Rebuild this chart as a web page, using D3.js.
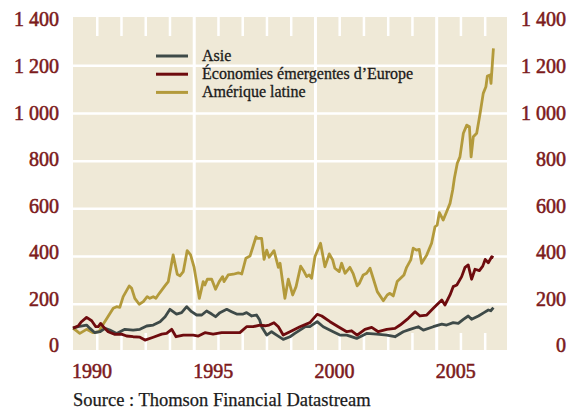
<!DOCTYPE html>
<html>
<head>
<meta charset="utf-8">
<script src="https://cdn.jsdelivr.net/npm/d3@7/dist/d3.min.js"></script>
<style>
  html, body { margin: 0; padding: 0; background: #ffffff; }
  svg { display: block; }
</style>
</head>
<body>
<svg id="chart" width="568" height="409"></svg>
<script>
// ---------- DATA ----------
const seriesNames = ["Asie", "Économies émergentes d’Europe", "Amérique latine"];

const asieDates = [1990.0,1990.21,1990.56,1990.70,1990.90,1991.11,1991.32,1991.52,1991.80,1992.14,1992.48,1992.76,1993.04,1993.31,1993.59,1993.80,1994.00,1994.27,1994.48,1994.69,1994.89,1995.10,1995.31,1995.51,1995.72,1995.88,1996.06,1996.34,1996.54,1996.75,1997.02,1997.16,1997.37,1997.57,1997.70,1997.78,1997.99,1998.19,1998.40,1998.67,1998.95,1999.15,1999.36,1999.57,1999.77,2000.07,2000.32,2000.73,2001.01,2001.29,2001.70,2002.11,2002.52,2002.94,2003.28,2003.62,2003.90,2004.24,2004.45,2004.86,2005.21,2005.41,2005.68,2005.89,2006.10,2006.30,2006.44,2006.72,2006.95,2007.13,2007.23,2007.34];
const asieValues = [100,106,113,99,81,85,99,92,78,95,92,95,109,113,127,148,179,159,165,190,169,155,155,172,159,148,165,179,169,159,159,165,151,155,134,106,71,85,71,53,64,78,92,106,106,127,106,85,71,71,57,78,75,71,64,85,95,106,92,106,117,113,123,120,137,151,137,151,165,176,173,186];

const europeDates = [1990.0,1990.21,1990.35,1990.56,1990.77,1990.94,1991.04,1991.14,1991.25,1991.45,1991.73,1992.00,1992.21,1992.48,1992.76,1992.97,1993.31,1993.66,1993.86,1994.07,1994.25,1994.55,1994.96,1995.17,1995.44,1995.78,1996.13,1996.47,1996.88,1997.16,1997.43,1997.71,1997.92,1998.09,1998.29,1998.47,1998.67,1998.95,1999.36,1999.77,2000.07,2000.26,2000.60,2000.94,2001.29,2001.49,2001.72,2002.04,2002.32,2002.59,2002.94,2003.28,2003.49,2003.83,2004.11,2004.31,2004.59,2004.86,2005.21,2005.34,2005.55,2005.68,2005.83,2006.03,2006.17,2006.30,2006.44,2006.58,2006.76,2006.90,2007.00,2007.13,2007.27,2007.34];
const europeValues = [100,109,127,145,131,106,106,120,106,85,74,75,67,64,62,50,62,75,78,95,64,71,71,67,81,75,81,81,81,106,106,113,110,113,123,106,71,85,106,123,158,151,127,106,85,89,71,95,103,85,95,99,113,141,169,151,155,183,218,197,239,274,281,316,355,365,305,347,341,360,388,374,399,395];

const latinDates = [1990.0,1990.28,1990.56,1990.83,1991.08,1991.18,1991.66,1991.80,1991.93,1992.07,1992.32,1992.42,1992.55,1992.73,1992.90,1993.06,1993.17,1993.31,1993.42,1993.56,1993.79,1993.93,1994.13,1994.30,1994.41,1994.55,1994.71,1994.85,1994.99,1995.21,1995.37,1995.44,1995.54,1995.72,1995.88,1996.03,1996.17,1996.23,1996.40,1996.61,1996.82,1996.96,1997.13,1997.30,1997.55,1997.60,1997.78,1997.88,1997.99,1998.09,1998.29,1998.47,1998.54,1998.74,1998.88,1999.06,1999.20,1999.39,1999.53,1999.64,1999.74,1999.84,1999.98,2000.21,2000.39,2000.57,2000.71,2000.80,2000.98,2001.08,2001.22,2001.42,2001.56,2001.72,2001.81,2001.97,2002.11,2002.25,2002.38,2002.55,2002.80,2002.96,2003.07,2003.21,2003.37,2003.51,2003.65,2003.76,2003.93,2004.03,2004.17,2004.28,2004.38,2004.59,2004.79,2004.93,2005.02,2005.11,2005.27,2005.41,2005.55,2005.66,2005.73,2005.85,2005.96,2006.10,2006.24,2006.35,2006.42,2006.51,2006.65,2006.79,2006.92,2007.03,2007.09,2007.20,2007.24,2007.34];
const latinValues = [100,78,95,81,85,106,183,190,187,232,277,267,225,200,211,232,225,232,225,246,277,295,407,326,319,337,425,407,357,225,295,281,305,305,263,295,316,295,323,326,332,327,393,402,483,476,476,388,427,397,425,355,372,225,305,239,274,360,337,316,323,309,400,456,357,411,386,351,337,372,330,355,327,277,288,323,330,351,309,253,215,239,246,235,295,309,323,355,386,435,427,430,372,407,456,525,532,584,553,588,623,679,728,791,818,917,951,944,818,902,917,1000,1084,1112,1157,1161,1126,1273];

const yTicks = [0,200,400,600,800,1000,1200,1400];
const xLabelYears = [1990,1995,2000,2005];
const minorYears = [1991,1992,1993,1994,1996,1997,1998,1999,2001,2002,2003,2004,2006,2007];
const sourceText = "Source : Thomson Financial Datastream";

// ---------- STYLE ----------
const colors = ["#3e4a48", "#6e0b0e", "#b39a3b"];
const axisColor = "#7c1a1c";
const bg = "#efe9d7";
const font = "'Liberation Serif', 'Times New Roman', serif";

const svg = d3.select("#chart");
const L = 73, R = 507, T = 17, B = 350;

const x = d3.scaleLinear().domain([1990, 2007.9]).range([L, R]);
const y = d3.scaleLinear().domain([0, 1400]).range([352, 18]);
const yLab = d3.scaleLinear().domain([0, 1400]).range([345.5, 19.5]);

const fmt = d3.formatLocale({decimal: ",", thousands: " ", grouping: [3], currency: ["", ""]}).format(",");

// plot background
svg.append("rect").attr("x", L).attr("y", T).attr("width", R - L).attr("height", B - T).attr("fill", bg);

// horizontal grid
svg.append("g").selectAll("line").data(yTicks.filter(d => d > 0 && d < 1400)).join("line")
  .attr("x1", L).attr("x2", R).attr("y1", d => y(d)).attr("y2", d => y(d))
  .attr("stroke", "#fff").attr("stroke-width", 2.5);

// vertical major lines
svg.append("g").selectAll("line").data(xLabelYears.filter(d => d > 1990)).join("line")
  .attr("x1", d => x(d)).attr("x2", d => x(d)).attr("y1", T).attr("y2", B)
  .attr("stroke", "#fff").attr("stroke-width", 3);

// minor ticks top & bottom
const tk = svg.append("g");
tk.selectAll("line.b").data(minorYears).join("line").attr("class", "b")
  .attr("x1", d => x(d)).attr("x2", d => x(d)).attr("y1", B - 17).attr("y2", B)
  .attr("stroke", "#fff").attr("stroke-width", 2.5);
tk.selectAll("line.t").data(minorYears).join("line").attr("class", "t")
  .attr("x1", d => x(d)).attr("x2", d => x(d)).attr("y1", T).attr("y2", T + 19)
  .attr("stroke", "#fff").attr("stroke-width", 2.5);

// lines
const series = [
  {name: seriesNames[2], dates: latinDates, values: latinValues, color: colors[2]},
  {name: seriesNames[0], dates: asieDates, values: asieValues, color: colors[0]},
  {name: seriesNames[1], dates: europeDates, values: europeValues, color: colors[1]}
];
const line = d3.line().x(d => x(d[0])).y(d => y(d[1]));
svg.append("g").selectAll("path").data(series).join("path")
  .attr("d", s => line(s.dates.map((d, i) => [d, s.values[i]])))
  .attr("fill", "none").attr("stroke", s => s.color).attr("stroke-width", 2.8)
  .attr("stroke-linejoin", "round");

// y axis labels
const axL = d3.axisLeft(yLab).tickValues(yTicks).tickFormat(fmt).tickSize(0).tickPadding(0);
const gL = svg.append("g").attr("transform", "translate(59,0)").call(axL);
const axR = d3.axisLeft(yLab).tickValues(yTicks).tickFormat(fmt).tickSize(0).tickPadding(0);
const gR = svg.append("g").attr("transform", "translate(566,0)").call(axR);
[gL, gR].forEach(g => {
  g.select(".domain").remove();
  g.selectAll("text").attr("fill", axisColor).attr("stroke", axisColor).attr("stroke-width", 0.55)
    .style("font-family", font).style("font-size", "20px");
});

// x labels
svg.append("g").selectAll("text").data(xLabelYears).join("text")
  .attr("x", d => x(d) - 1).attr("y", 378)
  .attr("fill", axisColor).attr("stroke", axisColor).attr("stroke-width", 0.55)
  .style("font-family", font).style("font-size", "20px")
  .text(d => d);

// legend
const leg = svg.append("g");
const legOrder = [0, 1, 2];
legOrder.forEach((k, i) => {
  const yy = 56 + i * 18.2;
  leg.append("line").attr("x1", 156).attr("x2", 188).attr("y1", yy).attr("y2", yy)
    .attr("stroke", colors[k]).attr("stroke-width", 3);
  leg.append("text").attr("x", 202).attr("y", yy + 5)
    .attr("fill", "#1a1a1a").attr("stroke", "#1a1a1a").attr("stroke-width", 0.3)
    .style("font-family", font).style("font-size", "16px")
    .text(seriesNames[k]);
});

// source
svg.append("text").attr("x", 73).attr("y", 405.5)
  .attr("fill", "#1a1a1a").attr("stroke", "#1a1a1a").attr("stroke-width", 0.25)
  .style("font-family", font).style("font-size", "18.5px")
  .text(sourceText);
</script>
</body>
</html>
